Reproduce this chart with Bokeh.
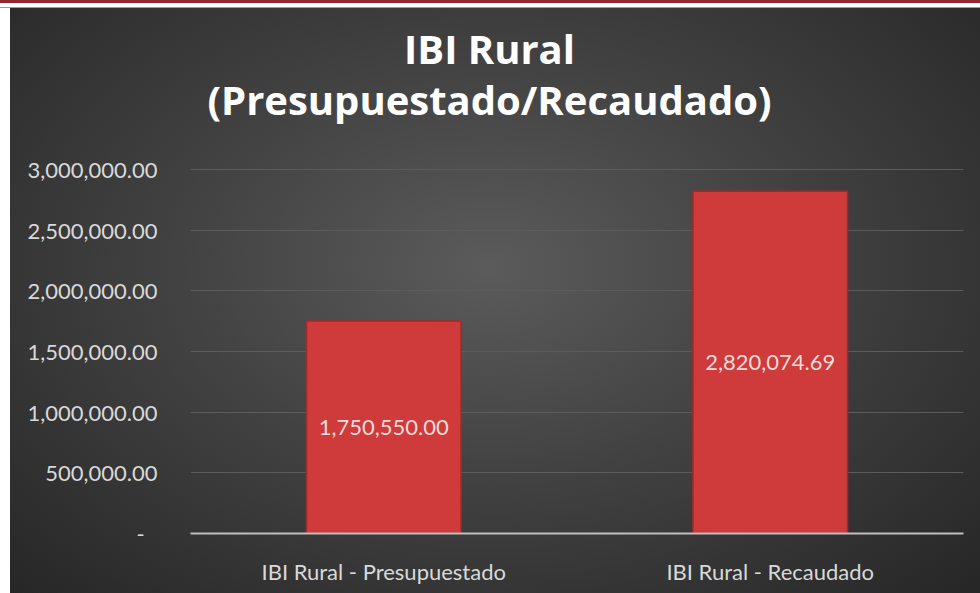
from bokeh.plotting import figure
from bokeh.models import ColumnDataSource, LabelSet, Label, FixedTicker, Range1d
from bokeh.core.properties import value
from bokeh.embed import file_html
from bokeh.resources import INLINE

categories = ["IBI Rural - Presupuestado", "IBI Rural - Recaudado"]
values = [1750550.00, 2820074.69]
value_labels = ["1,750,550.00", "2,820,074.69"]
y_ticks = [0, 500000, 1000000, 1500000, 2000000, 2500000, 3000000]
y_tick_labels = ["-\u2007", "500,000.00", "1,000,000.00", "1,500,000.00",
                 "2,000,000.00", "2,500,000.00", "3,000,000.00"]
title_lines = ["IBI Rural", "(Presupuestado/Recaudado)"]

# layout: the value axis spans 0..3,000,000 over 364 px; the frame is
# extended upward (no ticks/grid there) so the title can sit inside it
PX_PER_UNIT = 364 / 3000000
FRAME_TOP_PX = 523            # pixels from the frame top down to the value-axis zero line
Y_MAX = FRAME_TOP_PX / PX_PER_UNIT
TITLE_BASELINES_PX = [485, 434]   # pixels above the value-axis zero line
TITLE_SIZES = ["40px", "40px"]

source = ColumnDataSource(dict(
    cat=categories,
    val=values,
    mid=[v / 2 for v in values],
    lab=value_labels,
))

p = figure(
    x_range=categories,
    y_range=Range1d(0, Y_MAX),
    width=980, height=593,
    output_backend="svg",
    toolbar_location=None,
    min_border_left=190, min_border_right=17,
    min_border_top=10, min_border_bottom=60,
)
p.title = None

for txt, base_px, fs in zip(title_lines, TITLE_BASELINES_PX, TITLE_SIZES):
    p.add_layout(Label(x=299, y=base_px / PX_PER_UNIT, x_units="screen",
                       text=txt, text_align="center", text_baseline="alphabetic",
                       text_font="Open Sans", text_font_style="bold",
                       text_font_size=fs, text_color="#ffffff"))

p.styles = {"background":
            "linear-gradient(#8e2a2e, #8e2a2e) 0 0 / 100% 3px no-repeat, "
            "linear-gradient(#ffffff, #ffffff) 0 0 / 100% 7px no-repeat, "
            "linear-gradient(#9a9a9a, #9a9a9a) 0 7px / 100% 1px no-repeat, "
            "linear-gradient(#ffffff, #ffffff) 0 0 / 10px 100% no-repeat, "
            "radial-gradient(ellipse at 50% 45%, #5b5b5b 0%, #424242 45%, #262626 100%)"}
p.background_fill_alpha = 0
p.border_fill_alpha = 0
p.outline_line_color = None
p.x_range.range_padding = 0

p.vbar(x="cat", top="val", width=0.4, source=source,
       fill_color="#cf3b3b", line_color="#a02a2a", line_width=1.5)

labels = LabelSet(x="cat", y="mid", text="lab", source=source,
                  text_align="center", text_baseline="middle",
                  text_font=value("Lato"), text_font_size="22px",
                  text_color="#f2dcdb")
p.add_layout(labels)

p.yaxis.ticker = FixedTicker(ticks=y_ticks)
p.yaxis.major_label_overrides = {t_: l for t_, l in zip(y_ticks, y_tick_labels)}
p.yaxis.axis_line_color = None
p.yaxis.major_tick_line_color = None
p.yaxis.minor_tick_line_color = None
p.yaxis.major_label_standoff = 27
p.yaxis.major_label_text_font = "Lato"
p.yaxis.major_label_text_font_size = "22px"
p.yaxis.major_label_text_color = "#d9d9d9"

p.xaxis.axis_line_color = "#bfbfbf"
p.xaxis.axis_line_width = 2
p.xaxis.major_tick_line_color = None
p.xaxis.minor_tick_line_color = None
p.xaxis.major_label_standoff = 18
p.xaxis.major_label_text_font = "Lato"
p.xaxis.major_label_text_font_size = "22px"
p.xaxis.major_label_text_color = "#d9d9d9"

p.xgrid.grid_line_color = None
p.ygrid.grid_line_color = "#5c5c5c"
p.ygrid.grid_line_width = 1

open("out.html", "w").write(file_html(p, INLINE))
